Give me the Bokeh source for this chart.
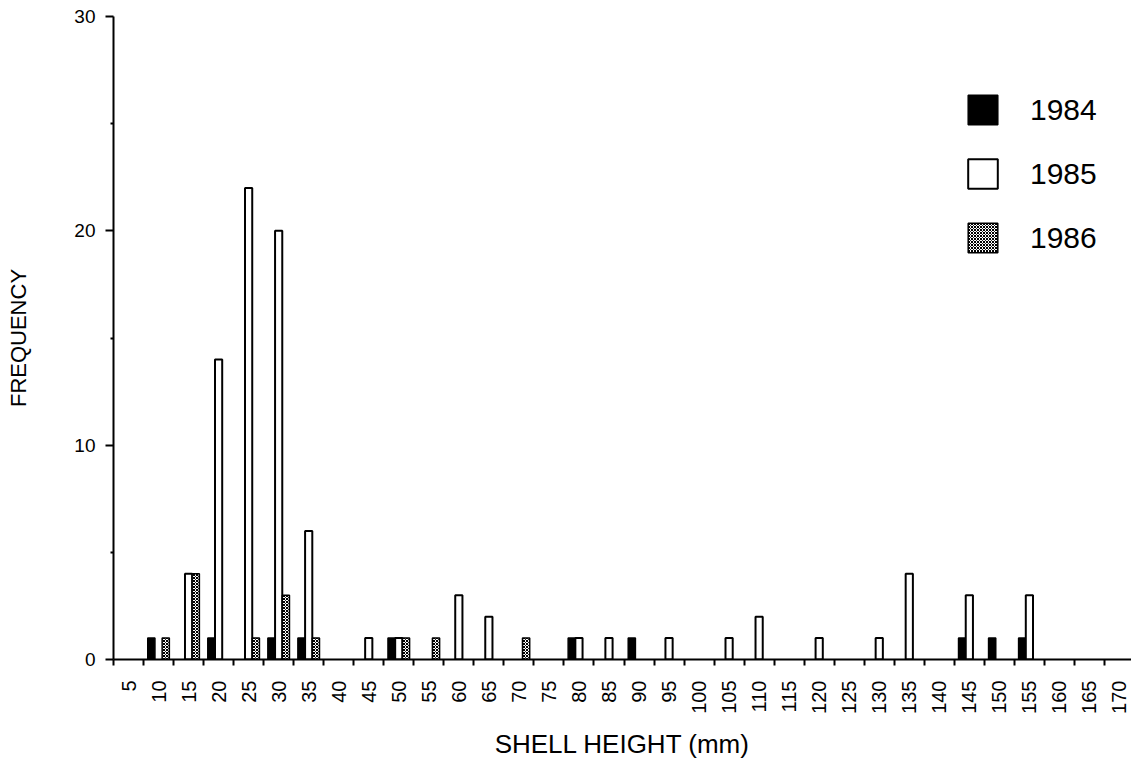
from bokeh.plotting import figure
from bokeh.models import FixedTicker, Range1d, Legend, LegendItem, ColumnDataSource
from bokeh.embed import file_html
from bokeh.resources import INLINE

# ---- data ----
sizes = [5, 10, 15, 20, 25, 30, 35, 40, 45, 50, 55, 60, 65, 70, 75, 80, 85, 90,
         95, 100, 105, 110, 115, 120, 125, 130, 135, 140, 145, 150, 155, 160, 165, 170]
freq_1984 = [0, 1, 0, 1, 0, 1, 1, 0, 0, 1, 0, 0, 0, 0, 0, 1, 0, 1,
             0, 0, 0, 0, 0, 0, 0, 0, 0, 0, 1, 1, 1, 0, 0, 0]
freq_1985 = [0, 0, 4, 14, 22, 20, 6, 0, 1, 1, 0, 3, 2, 0, 0, 1, 1, 0,
             1, 0, 1, 2, 0, 1, 0, 1, 4, 0, 3, 0, 3, 0, 0, 0]
freq_1986 = [0, 1, 4, 0, 1, 3, 1, 0, 0, 1, 1, 0, 0, 1, 0, 0, 0, 0,
             0, 0, 0, 0, 0, 0, 0, 0, 0, 0, 0, 0, 0, 0, 0, 0]
y_ticks = [0, 10, 20, 30]
y_minor = [5, 15, 25]

FONT = "Liberation Sans"
BAR_W = 1.2
OFF = 1.2

p = figure(width=1131, height=761, output_backend="svg", toolbar_location=None,
           x_range=Range1d(2.5, 172.0), y_range=Range1d(0, 30),
           min_border_left=113, min_border_right=0, min_border_top=16, min_border_bottom=98)
p.outline_line_color = None
p.grid.visible = False
p.background_fill_color = "white"
p.border_fill_color = "white"


def src(vals, off):
    xs = [s + off for s, v in zip(sizes, vals) if v > 0]
    ys = [v for v in vals if v > 0]
    return ColumnDataSource(dict(x=xs, top=ys))


r84 = p.vbar(x="x", top="top", width=BAR_W, bottom=0, source=src(freq_1984, -OFF),
             fill_color="black", line_color="black", line_width=1.5)
r85 = p.vbar(x="x", top="top", width=BAR_W, bottom=0, source=src(freq_1985, 0),
             fill_color="white", line_color="black", line_width=2)
r86 = p.vbar(x="x", top="top", width=BAR_W, bottom=0, source=src(freq_1986, OFF),
             fill_color="white", line_color="black", line_width=1.5,
             hatch_pattern="diagonal_cross", hatch_color="black", hatch_scale=3, hatch_weight=1)

# x axis
xa = p.xaxis[0]
xa.ticker = FixedTicker(ticks=sizes, minor_ticks=[s - 2.5 for s in sizes])
xa.major_tick_out = 0
xa.major_tick_in = 0
xa.minor_tick_out = 6
xa.minor_tick_in = 0
xa.minor_tick_line_width = 2
xa.axis_line_width = 2
xa.major_label_orientation = 1.5708
xa.major_label_standoff = 15
xa.major_label_text_font = FONT
xa.major_label_text_font_size = "20px"
xa.major_label_text_color = "black"
xa.axis_label = "SHELL HEIGHT (mm)"
xa.axis_label_text_font = FONT
xa.axis_label_text_font_style = "normal"
xa.axis_label_text_font_size = "26px"
xa.axis_label_text_color = "black"
xa.axis_label_standoff = 12

# y axis
ya = p.yaxis[0]
ya.ticker = FixedTicker(ticks=y_ticks, minor_ticks=y_minor)
ya.major_tick_out = 8
ya.major_tick_in = 0
ya.major_tick_line_width = 2
ya.minor_tick_out = 3
ya.minor_tick_in = 0
ya.minor_tick_line_width = 2
ya.axis_line_width = 2
ya.major_label_standoff = 10
ya.major_label_text_font = FONT
ya.major_label_text_font_size = "19px"
ya.major_label_text_color = "black"
ya.axis_label = "FREQUENCY"
ya.axis_label_text_font = FONT
ya.axis_label_text_font_style = "normal"
ya.axis_label_text_font_size = "22px"
ya.axis_label_text_color = "black"
ya.axis_label_standoff = 40

legend = Legend(items=[LegendItem(label="1984", renderers=[r84]),
                       LegendItem(label="1985", renderers=[r85]),
                       LegendItem(label="1986", renderers=[r86])],
                location=(851, 403), glyph_width=37, glyph_height=37,
                label_standoff=29, spacing=27, padding=0, margin=0,
                border_line_color=None, background_fill_alpha=0,
                label_text_font=FONT, label_text_font_size="30px",
                label_text_color="black")
p.add_layout(legend, "center")

open("out.html", "w").write(file_html(p, INLINE))
